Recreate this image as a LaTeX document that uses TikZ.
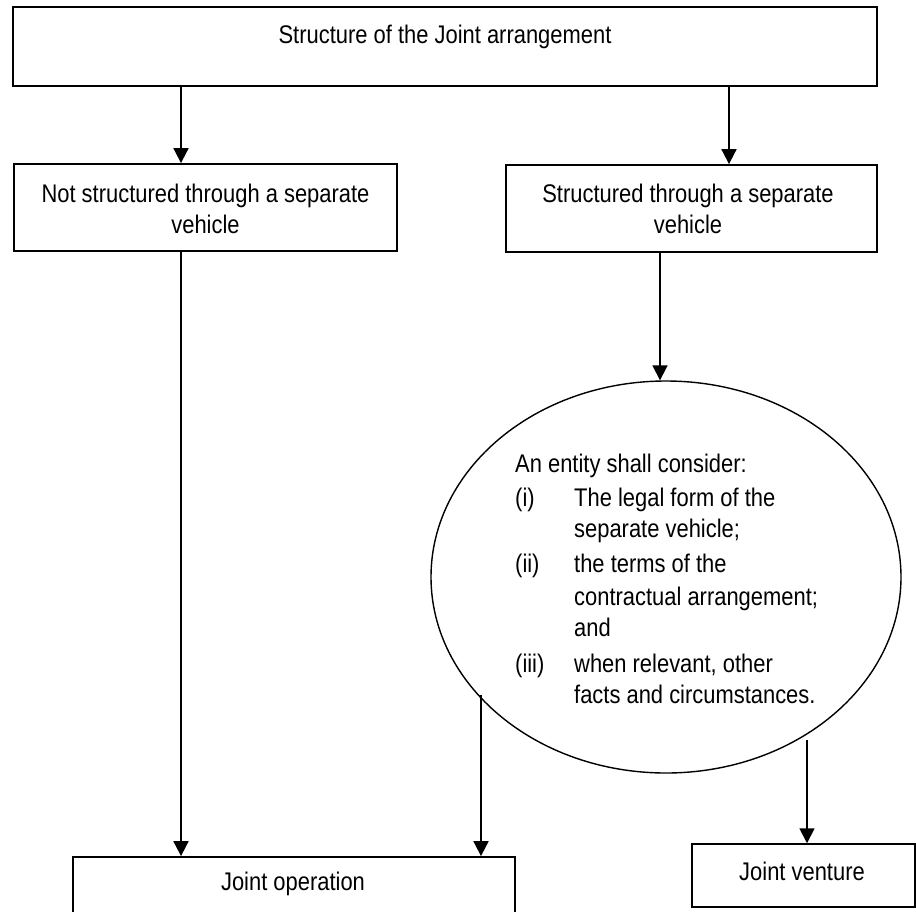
\documentclass[tikz,border=0pt]{standalone}
\usepackage{fontspec}
\setmainfont[FakeStretch=0.86]{Liberation Sans}
\usetikzlibrary{shapes.geometric,arrows.meta}
\begin{document}
\begin{tikzpicture}[x=1pt,y=-1pt,
  box/.style={draw, rectangle, line width=1.8pt, inner sep=0pt},
  txt/.style={inner sep=0pt, font=\fontsize{25.5}{33}\selectfont},
  arr/.style={-{Triangle[length=15pt,width=15pt]}, line width=1.8pt}]
\useasboundingbox (0,0) rectangle (916,911);
\clip (0,0) rectangle (916,911);
% boxes
\node[box, minimum width=864pt, minimum height=79pt] (top) at (445,46.5) {};
\node[box, minimum width=383pt, minimum height=87pt] (lbox) at (205.5,207.5) {};
\node[box, minimum width=371pt, minimum height=87pt] (rbox) at (691.5,208.5) {};
\node[draw, ellipse, line width=1.4pt, minimum width=470pt, minimum height=392pt, inner sep=0pt] (ell) at (666,577) {};
\node[box, minimum width=442pt, minimum height=73pt] (jop) at (294,893.5) {};
\node[box, line width=1.5pt, minimum width=223pt, minimum height=63pt] (jv) at (803.5,875.5) {};
% texts
\node[txt, anchor=base] (ttop) at (445,43) {Structure of the Joint arrangement};
\node[txt, anchor=base] (tl1) at (205.5,202) {Not structured through a separate};
\node[txt, anchor=base] (tl2) at (205.5,233) {vehicle};
\node[txt, anchor=base] (tr1) at (688,202) {Structured through a separate};
\node[txt, anchor=base] (tr2) at (688,233) {vehicle};
\node[txt, anchor=base west] (e0) at (515,472) {An entity shall consider:};
\node[txt, anchor=base west] (n1) at (515,506) {(i)};
\node[txt, anchor=base west] (e1a) at (574,506) {The legal form of the};
\node[txt, anchor=base west] (e1b) at (574,537) {separate vehicle;};
\node[txt, anchor=base west] (n2) at (515,572) {(ii)};
\node[txt, anchor=base west] (e2a) at (574,572) {the terms of the};
\node[txt, anchor=base west] (e2b) at (574,605) {contractual arrangement;};
\node[txt, anchor=base west] (e2c) at (574,636) {and};
\node[txt, anchor=base west] (n3) at (515,672) {(iii)};
\node[txt, anchor=base west] (e3a) at (574,672) {when relevant, other};
\node[txt, anchor=base west] (e3b) at (574,703) {facts and circumstances.};
\node[txt, anchor=base] (tjop) at (293,890) {Joint operation};
\node[txt, anchor=base] (tjv) at (802,880) {Joint venture};
% connectors
\coordinate (xa) at (181,0);
\coordinate (xb) at (729,0);
\coordinate (xc) at (660,0);
\coordinate (s1) at (481,695);
\coordinate (s2) at (807,740);
\draw[arr] (top.south -| xa) -- (lbox.north -| xa);
\draw[arr] (top.south -| xb) -- (rbox.north -| xb);
\draw[arr] (rbox.south -| xc) -- (ell.north -| xc);
\draw[arr] (lbox.south -| xa) -- (jop.north -| xa);
\draw[arr] (s1) -- (jop.north -| s1);
\draw[arr] (s2) -- (jv.north -| s2);
\end{tikzpicture}
\end{document}
